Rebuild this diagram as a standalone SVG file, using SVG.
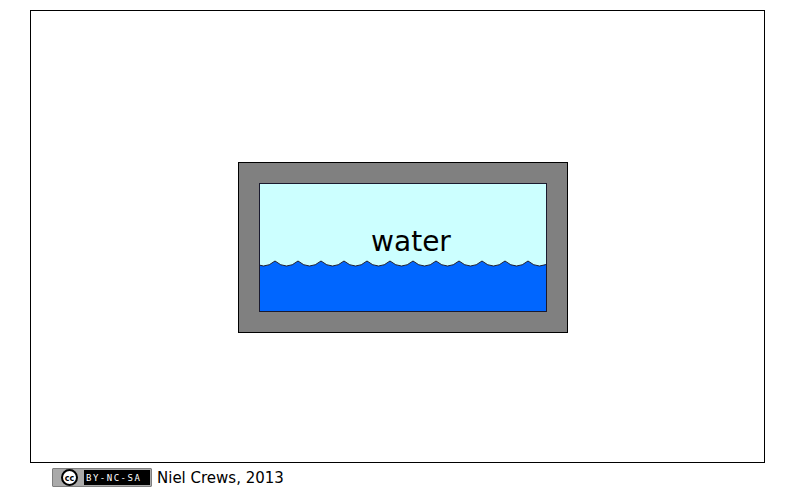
<svg xmlns="http://www.w3.org/2000/svg" width="797" height="499" viewBox="0 0 797 499">
  <style>
    .lbl { font-family: "DejaVu Sans", "Liberation Sans", sans-serif; fill: #000; }
    .frame { fill: #fff; stroke: #000; stroke-width: 1; }
  </style>
  <defs>
    <clipPath id="innerClip">
      <rect x="259.5" y="183.5" width="287" height="128"/>
    </clipPath>
  </defs>
  <rect width="797" height="499" fill="#fff"/>
  <rect class="frame" x="30.5" y="10.5" width="734" height="452"/>

  <g id="tank">
    <rect x="238.5" y="162.5" width="329" height="170" fill="#808080" stroke="#000" stroke-width="1"/>
    <rect x="259.5" y="183.5" width="287" height="128" fill="#ccffff"/>
    <g clip-path="url(#innerClip)">
      <path d="M252,261 Q263.5,271 275,261 Q286.5,271 298,261 Q309.5,271 321,261 Q332.5,271 344,261 Q355.5,271 367,261 Q378.5,271 390,261 Q401.5,271 413,261 Q424.5,271 436,261 Q447.5,271 459,261 Q470.5,271 482,261 Q493.5,271 505,261 Q516.5,271 528,261 Q539.5,271 551,261 L551,315 L252,315 Z" fill="#0066ff" stroke="none"/>
      <path d="M252,261 Q263.5,271 275,261 Q286.5,271 298,261 Q309.5,271 321,261 Q332.5,271 344,261 Q355.5,271 367,261 Q378.5,271 390,261 Q401.5,271 413,261 Q424.5,271 436,261 Q447.5,271 459,261 Q470.5,271 482,261 Q493.5,271 505,261 Q516.5,271 528,261 Q539.5,271 551,261" fill="none" stroke="#1a1a2e" stroke-width="1"/>
    </g>
    <rect x="259.5" y="183.5" width="287" height="128" fill="none" stroke="#1a1a2e" stroke-width="1"/>
  </g>

  <g id="label-water">
    <text class="lbl" x="411" y="251" font-size="28" text-anchor="middle">water</text>
  </g>

  <g id="credit">
    <rect x="52.5" y="468.5" width="99" height="18" fill="#000"/>
    <rect x="53.5" y="469.5" width="97" height="16" fill="none" stroke="#aaa" stroke-width="1"/>
    <rect x="54" y="470" width="30" height="15" fill="#aaa"/>
    <circle cx="69.5" cy="477.5" r="7.5" fill="#fff" stroke="#000" stroke-width="2"/>
    <text x="69.5" y="480.5" font-family="DejaVu Sans, sans-serif" font-size="8" font-weight="bold" text-anchor="middle" fill="#000">cc</text>
    <text x="86" y="481" font-family="DejaVu Sans Mono, monospace" font-size="9" letter-spacing="1.5" fill="#fff">BY-NC-SA</text>
    <text class="lbl" x="157" y="483" font-size="15">Niel Crews, 2013</text>
  </g>
</svg>
